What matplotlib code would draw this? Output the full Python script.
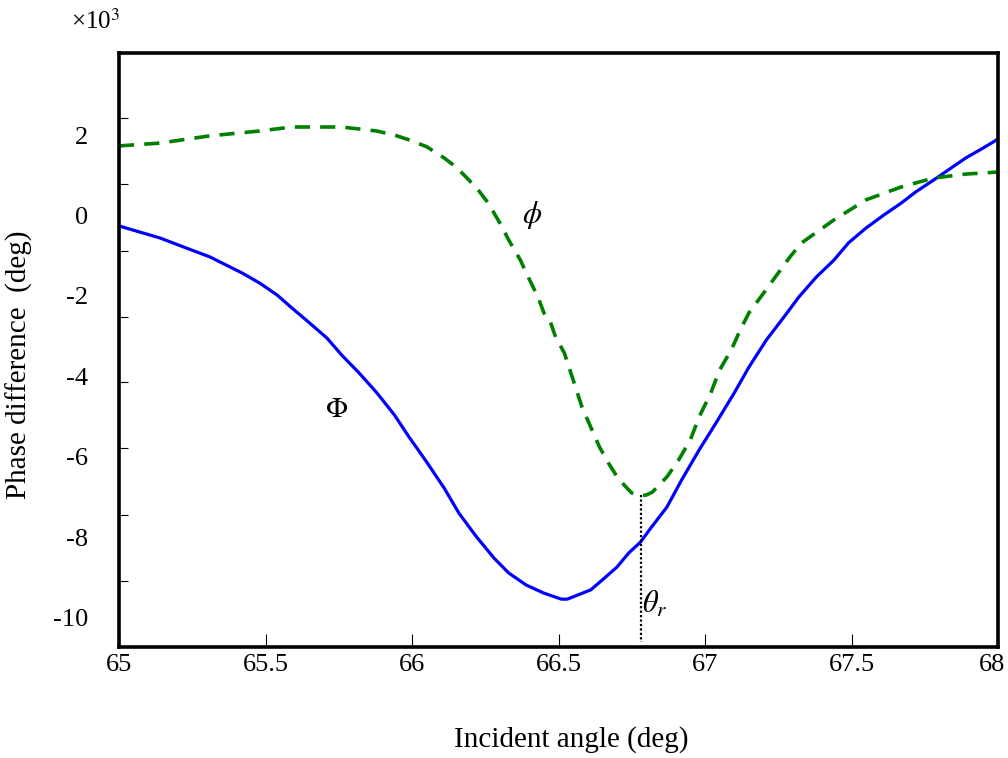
import matplotlib
matplotlib.use("Agg")
import matplotlib.pyplot as plt
import matplotlib.transforms as mtransforms
from matplotlib.ticker import FixedLocator

plt.rcParams['font.family'] = ['Liberation Serif', 'DejaVu Serif']
plt.rcParams['mathtext.fontset'] = 'stix'

# Phi (solid blue), units x10^3
angle_Phi = [65.00, 65.14, 65.23, 65.31, 65.42, 65.48, 65.54, 65.59, 65.65, 65.71,
             65.76, 65.82, 65.88, 65.94, 65.99, 66.05, 66.11, 66.16, 66.22, 66.28,
             66.33, 66.39, 66.45, 66.51, 66.53, 66.61, 66.65, 66.70, 66.74, 66.78,
             66.81, 66.87, 66.92, 66.98, 67.04, 67.10, 67.15, 67.21, 67.27, 67.32,
             67.38, 67.44, 67.49, 67.55, 67.61, 67.67, 67.72, 67.78, 67.84, 67.89,
             67.95, 68.00]
Phi = [-0.26, -0.56, -0.81, -1.03, -1.43, -1.68, -1.98, -2.30, -2.67, -3.05,
       -3.47, -3.92, -4.41, -4.96, -5.51, -6.13, -6.78, -7.40, -7.99, -8.52,
       -8.89, -9.19, -9.39, -9.54, -9.54, -9.31, -9.06, -8.74, -8.39, -8.12,
       -7.82, -7.25, -6.58, -5.83, -5.13, -4.41, -3.77, -3.09, -2.52, -2.03,
       -1.53, -1.11, -0.68, -0.31, 0.01, 0.31, 0.59, 0.88, 1.18, 1.43,
       1.68, 1.90]

# phi (dashed green)
angle_phi = [65.00, 65.14, 65.31, 65.48, 65.59, 65.76, 65.88, 65.94, 65.99, 66.05,
             66.11, 66.14, 66.17, 66.22, 66.26, 66.30, 66.33, 66.37, 66.39, 66.43,
             66.45, 66.47, 66.49, 66.52, 66.55, 66.58, 66.61, 66.64, 66.67, 66.70,
             66.73, 66.75, 66.78, 66.80, 66.82, 66.87, 66.91, 66.95, 66.98, 67.02,
             67.05, 67.09, 67.12, 67.15, 67.20, 67.25, 67.29, 67.33, 67.44, 67.55,
             67.67, 67.78, 67.89, 68.00]
phi = [1.73, 1.80, 1.98, 2.10, 2.20, 2.20, 2.10, 2.00, 1.88, 1.71,
       1.43, 1.26, 1.06, 0.69, 0.31, -0.19, -0.61, -1.11, -1.43, -2.03,
       -2.42, -2.60, -3.02, -3.42, -4.09, -4.76, -5.26, -5.76, -6.15, -6.50,
       -6.75, -6.90, -6.97, -6.95, -6.88, -6.50, -6.08, -5.58, -5.01, -4.41,
       -3.84, -3.34, -2.85, -2.42, -1.93, -1.43, -1.03, -0.68, -0.11, 0.39,
       0.71, 0.93, 1.03, 1.08]

theta_r = 66.78
x_ticks = [65, 65.5, 66, 66.5, 67, 67.5, 68]
x_ticklabels = ['65', '65.5', '66', '66.5', '67', '67.5', '68']
y_ticks = [2, 0, -2, -4, -6, -8, -10]
y_ticklabels = ['2', '0', '-2', '-4', '-6', '-8', '-10']
y_minor = [2.43, 0.785, -0.88, -2.52, -4.14, -5.78, -7.45, -9.09]

fig = plt.figure(figsize=(10.08, 7.58), dpi=100)
ax = fig.add_axes([119/1008, 1-647/758, (998-119)/1008, (647-53)/758])

ax.plot(angle_Phi, Phi, color='#0000ff', lw=2.3, solid_joinstyle='round')
ax.plot(angle_phi, phi, color='#008000', lw=2.6, dashes=[4.2, 2.8])
ax.plot([theta_r, theta_r], [-6.95, -10.6], color='black', lw=1.6, linestyle=(0, (1, 1)))

ax.set_xlim(65, 68)
ax.set_ylim(-10.73, 4.04)

ax.set_xticks(x_ticks)
ax.set_xticklabels(x_ticklabels)
ax.set_yticks(y_ticks)
ax.set_yticklabels(y_ticklabels)
ax.yaxis.set_minor_locator(FixedLocator(y_minor))

ax.tick_params(axis='x', which='major', direction='in', length=9.5, width=0.8,
               labelsize=19, pad=5)
ax.tick_params(axis='y', which='major', length=0, labelsize=19, pad=22)
ax.tick_params(axis='y', which='minor', direction='in', length=6.5, width=0.8)

# keep the last x tick label inside the figure, as in the reference
last = ax.get_xticklabels()[-1]
last.set_transform(last.get_transform() +
                   mtransforms.ScaledTranslation(-6/100, 0, fig.dpi_scale_trans))

for s in ax.spines.values():
    s.set_linewidth(2.6)

ax.set_xlabel('Incident angle (deg)', fontsize=21)
ax.xaxis.set_label_coords(0.514, -0.133)
ax.set_ylabel('Phase difference  (deg)', fontsize=21)
ax.yaxis.set_label_coords(-0.098, 0.475)

ax.text(66.41, 0.0, r'$\phi$', fontsize=22, ha='center', va='center')
ax.text(65.744, -4.84, r'$\Phi$', fontsize=21, ha='center', va='center')
ax.text(66.83, -9.69, r'$\theta_r$', fontsize=22, ha='center', va='center')

fig.text(71/1008, 1-21/758, r'×10$^3$', fontsize=18, ha='left', va='center')

fig.savefig('out.png', dpi=100)
